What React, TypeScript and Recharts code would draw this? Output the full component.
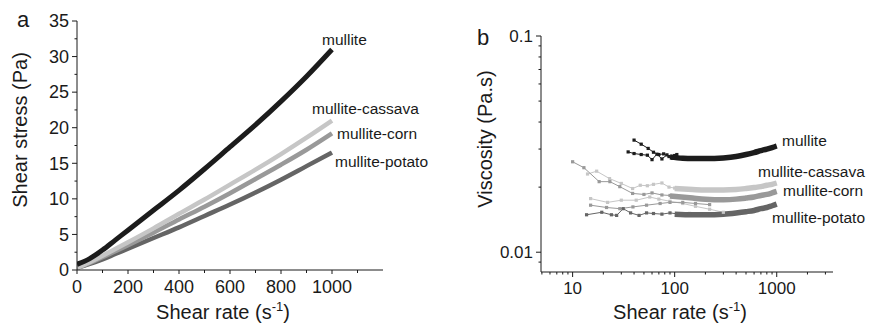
import React from 'react';
import { LineChart, Line, XAxis, YAxis } from 'recharts';

const FONT = '"Liberation Sans", Arial, Helvetica, sans-serif';
const INK = '#1a1a1a';

// ---------- Panel a: shear stress vs shear rate ----------
const rateA = [0, 50, 100, 150, 200, 300, 400, 500, 600, 700, 800, 900, 1000];
const mulliteStress = [0.8, 1.6, 2.8, 4.2, 5.6, 8.4, 11.2, 14.2, 17.3, 20.4, 23.7, 27.2, 31.0];
const cassavaStress = [0.3, 1.1, 2.0, 2.95, 3.9, 5.85, 7.9, 9.9, 12.0, 14.1, 16.3, 18.6, 21.0];
const cornStress = [0.3, 1.0, 1.8, 2.65, 3.5, 5.25, 7.1, 8.9, 10.8, 12.8, 14.8, 16.9, 19.2];
const potatoStress = [0.3, 0.85, 1.5, 2.25, 3.0, 4.5, 6.0, 7.6, 9.2, 10.9, 12.7, 14.6, 16.5];

const ticksAX = [0, 100, 200, 300, 400, 500, 600, 700, 800, 900, 1000, 1100];
const labelsAX = [0, 200, 400, 600, 800, 1000];
const ticksAY = [0, 2.5, 5, 7.5, 10, 12.5, 15, 17.5, 20, 22.5, 25, 27.5, 30, 32.5, 35];
const labelsAY = [0, 5, 10, 15, 20, 25, 30, 35];

// ---------- Panel b: viscosity vs shear rate (log-log) ----------
const mulliteSweep1: [number, number][] = [[40, 0.033], [47, 0.0316], [55, 0.0302], [62, 0.029], [70, 0.0283], [78, 0.0285], [88, 0.0277], [100, 0.028]];
const mulliteSweep2: [number, number][] = [[35, 0.0291], [40, 0.0286], [47, 0.0283], [54, 0.0281], [60, 0.0268], [67, 0.0284], [75, 0.027], [84, 0.0282], [95, 0.0272], [105, 0.0283]];
const mulliteBand: [number, number][] = [[90, 0.0276], [120, 0.0272], [150, 0.0271], [200, 0.0271], [300, 0.0273], [400, 0.0277], [500, 0.0283], [600, 0.0289], [700, 0.0295], [800, 0.03], [900, 0.0305], [1000, 0.031]];

const cassavaSweep1: [number, number][] = [[14, 0.023], [17.2, 0.0237], [23, 0.0219], [30, 0.0208], [38.7, 0.0197], [46, 0.0204], [54, 0.0203], [62, 0.0206], [75, 0.0209], [88, 0.02], [100, 0.0198]];
const cassavaSweep2: [number, number][] = [[15, 0.0177], [22, 0.017], [30, 0.0174], [42, 0.0174], [57, 0.018], [70, 0.0176], [90, 0.0172], [120, 0.0168], [160, 0.0163], [220, 0.0158], [300, 0.0153]];
const cassavaBand: [number, number][] = [[100, 0.0197], [150, 0.0195], [200, 0.0194], [300, 0.0194], [400, 0.0195], [500, 0.0197], [600, 0.0199], [700, 0.0201], [800, 0.0204], [900, 0.0206], [1000, 0.0209]];

const cornSweep1: [number, number][] = [[10, 0.0262], [12.9, 0.0246], [18.2, 0.0212], [23.2, 0.0212], [29, 0.0201], [38.7, 0.0187], [50, 0.0185], [60, 0.0188], [75, 0.0184], [90, 0.0183]];
const cornSweep2: [number, number][] = [[15, 0.0165], [21.5, 0.0161], [29, 0.0159], [39, 0.0162], [53, 0.0165], [72, 0.0168], [90, 0.017], [120, 0.017], [160, 0.0168], [220, 0.0166]];
const cornBand: [number, number][] = [[90, 0.0182], [150, 0.0178], [200, 0.0176], [300, 0.0175], [400, 0.0176], [500, 0.0178], [600, 0.018], [700, 0.0183], [800, 0.0185], [900, 0.0188], [1000, 0.0191]];

const potatoSweep1: [number, number][] = [[13.7, 0.0149], [19.3, 0.0153], [24, 0.0149], [27, 0.0148], [31.3, 0.0159], [37, 0.0152], [44.8, 0.0148], [53, 0.0152], [62, 0.0151], [75, 0.015], [90, 0.0152], [110, 0.015], [140, 0.0151], [180, 0.015], [240, 0.015]];
const potatoBand: [number, number][] = [[100, 0.015], [150, 0.0149], [200, 0.0149], [300, 0.015], [400, 0.0152], [500, 0.0154], [600, 0.0156], [700, 0.0159], [800, 0.0161], [900, 0.0164], [1000, 0.0167]];

const ticksBX = [5, 6, 7, 8, 9, 10, 20, 30, 40, 50, 60, 70, 80, 90, 100, 200, 300, 400, 500, 600, 700, 800, 900, 1000, 2000, 3000];
const labelsBX = [10, 100, 1000];
const ticksBY = [0.009, 0.01, 0.02, 0.03, 0.04, 0.05, 0.06, 0.07, 0.08, 0.09, 0.1];
const labelsBY = [0.01, 0.1];

const COLORS = { mullite: '#1c1c1c', cassava: '#c6c6c6', corn: '#999999', potato: '#656565' };

const zipXY = (xs: number[], ys: number[]) => xs.map((x, i) => ({ x, y: ys[i] }));
const fromPairs = (arr: [number, number][]) => arr.map(([x, y]) => ({ x, y }));

const makeXTick = (labels: number[], fontSize: number, majorLen: number, minorLen: number) => (props: any) => {
  const { x, y, payload } = props;
  const v = payload.value;
  const major = labels.includes(v);
  return (
    <g>
      <line x1={x} y1={y} x2={x} y2={y + (major ? majorLen : minorLen)} stroke={INK} strokeWidth={1} />
      {major && (
        <text x={x} y={y + 10} dy="0.71em" textAnchor="middle" fontSize={fontSize} fontFamily={FONT} fill={INK}>
          {String(v)}
        </text>
      )}
    </g>
  );
};

const makeYTick = (labels: number[], fontSize: number, majorLen: number, minorLen: number) => (props: any) => {
  const { x, y, payload } = props;
  const v = payload.value;
  const major = labels.includes(v);
  return (
    <g>
      <line x1={x} y1={y} x2={x - (major ? majorLen : minorLen)} y2={y} stroke={INK} strokeWidth={1} />
      {major && (
        <text x={x - 8} y={y} dy="0.35em" textAnchor="end" fontSize={fontSize} fontFamily={FONT} fill={INK}>
          {String(v)}
        </text>
      )}
    </g>
  );
};

const squareDot = (color: string) => (p: any) => (
  <rect key={`sq-${p.index}-${p.cx}`} x={p.cx - 1.6} y={p.cy - 1.6} width={3.2} height={3.2} fill={color} />
);

function PanelA() {
  return (
    <LineChart width={440} height={326} margin={{ top: 21, right: 57, bottom: 26, left: 17 }}>
      <XAxis
        type="number"
        dataKey="x"
        domain={[0, 1200]}
        ticks={ticksAX}
        interval={0}
        height={30}
        tickSize={0}
        tickMargin={0}
        tickLine={false}
        axisLine={{ stroke: INK, strokeWidth: 1 }}
        tick={makeXTick(labelsAX, 18, 4, 3)}
        allowDataOverflow
      />
      <YAxis
        type="number"
        dataKey="y"
        domain={[0, 35]}
        ticks={ticksAY}
        interval={0}
        width={60}
        tickSize={0}
        tickMargin={0}
        tickLine={false}
        axisLine={{ stroke: INK, strokeWidth: 1 }}
        tick={makeYTick(labelsAY, 18, 5, 2.5)}
        allowDataOverflow
      />
      <Line data={zipXY(rateA, potatoStress)} dataKey="y" type="monotone" stroke={COLORS.potato} strokeWidth={4.5} dot={false} isAnimationActive={false} />
      <Line data={zipXY(rateA, cornStress)} dataKey="y" type="monotone" stroke={COLORS.corn} strokeWidth={4.5} dot={false} isAnimationActive={false} />
      <Line data={zipXY(rateA, cassavaStress)} dataKey="y" type="monotone" stroke={COLORS.cassava} strokeWidth={4.5} dot={false} isAnimationActive={false} />
      <Line data={zipXY(rateA, mulliteStress)} dataKey="y" type="monotone" stroke={COLORS.mullite} strokeWidth={5} dot={false} isAnimationActive={false} />
    </LineChart>
  );
}

function PanelB() {
  const thin = (arr: [number, number][], color: string) => (
    <Line data={fromPairs(arr)} dataKey="y" type="linear" stroke={color} strokeWidth={1} dot={squareDot(color)} isAnimationActive={false} />
  );
  const band = (arr: [number, number][], color: string) => (
    <Line data={fromPairs(arr)} dataKey="y" type="monotone" stroke={color} strokeWidth={5.5} dot={false} isAnimationActive={false} />
  );
  return (
    <LineChart width={430} height={326} margin={{ top: 36, right: 37, bottom: 24, left: 41 }}>
      <XAxis
        type="number"
        dataKey="x"
        scale="log"
        domain={[4.9, 3560]}
        ticks={ticksBX}
        interval={0}
        height={30}
        tickSize={0}
        tickMargin={0}
        tickLine={false}
        axisLine={{ stroke: INK, strokeWidth: 1 }}
        tick={makeXTick(labelsBX, 17, 5, 2.5)}
        allowDataOverflow
      />
      <YAxis
        type="number"
        dataKey="y"
        scale="log"
        domain={[0.0081, 0.1]}
        ticks={ticksBY}
        interval={0}
        width={60}
        tickSize={0}
        tickMargin={0}
        tickLine={false}
        axisLine={{ stroke: INK, strokeWidth: 1 }}
        tick={makeYTick(labelsBY, 17, 5, 2.5)}
        allowDataOverflow
      />
      {thin(cassavaSweep1, COLORS.cassava)}
      {thin(cassavaSweep2, COLORS.cassava)}
      {band(cassavaBand, COLORS.cassava)}
      {thin(cornSweep1, COLORS.corn)}
      {thin(cornSweep2, COLORS.corn)}
      {band(cornBand, COLORS.corn)}
      {thin(potatoSweep1, COLORS.potato)}
      {band(potatoBand, COLORS.potato)}
      {thin(mulliteSweep1, COLORS.mullite)}
      {thin(mulliteSweep2, COLORS.mullite)}
      {band(mulliteBand, COLORS.mullite)}
    </LineChart>
  );
}

function Overlay() {
  const t = { fontFamily: FONT, fill: INK } as const;
  return (
    <svg width={870} height={326} style={{ position: 'absolute', left: 0, top: 0, pointerEvents: 'none' }}>
      <text x={17} y={27} fontSize={22} {...t}>a</text>
      <text x={477} y={45} fontSize={22} {...t}>b</text>

      <text x={27} y={130} fontSize={20} textAnchor="middle" transform="rotate(-90 27 130)" {...t}>Shear stress (Pa)</text>
      <text x={492} y={139} fontSize={20} textAnchor="middle" transform="rotate(-90 492 139)" {...t}>Viscosity (Pa.s)</text>

      <text x={223} y={319} fontSize={20} textAnchor="middle" {...t}>
        Shear rate (s<tspan dy={-8} fontSize={13}>-1</tspan><tspan dy={8}>)</tspan>
      </text>
      <text x={680} y={319} fontSize={20} textAnchor="middle" {...t}>
        Shear rate (s<tspan dy={-8} fontSize={13}>-1</tspan><tspan dy={8}>)</tspan>
      </text>

      <text x={322} y={45} fontSize={15.5} {...t}>mullite</text>
      <text x={312} y={114} fontSize={15.5} {...t}>mullite-cassava</text>
      <text x={337} y={139} fontSize={15.5} {...t}>mullite-corn</text>
      <text x={335} y={167} fontSize={15.5} {...t}>mullite-potato</text>

      <text x={782} y={145.5} fontSize={15.5} {...t}>mullite</text>
      <text x={758} y={176.5} fontSize={15.5} {...t}>mullite-cassava</text>
      <text x={783} y={195.5} fontSize={15.5} {...t}>mullite-corn</text>
      <text x={772} y={223} fontSize={15.5} {...t}>mullite-potato</text>
    </svg>
  );
}

export default function App() {
  return (
    <div style={{ position: 'absolute', left: 0, top: 0, width: 870, height: 326, background: '#fff', fontFamily: FONT }}>
      <div style={{ position: 'absolute', left: 0, top: 0 }}>
        <PanelA />
      </div>
      <div style={{ position: 'absolute', left: 440, top: 0 }}>
        <PanelB />
      </div>
      <Overlay />
    </div>
  );
}
